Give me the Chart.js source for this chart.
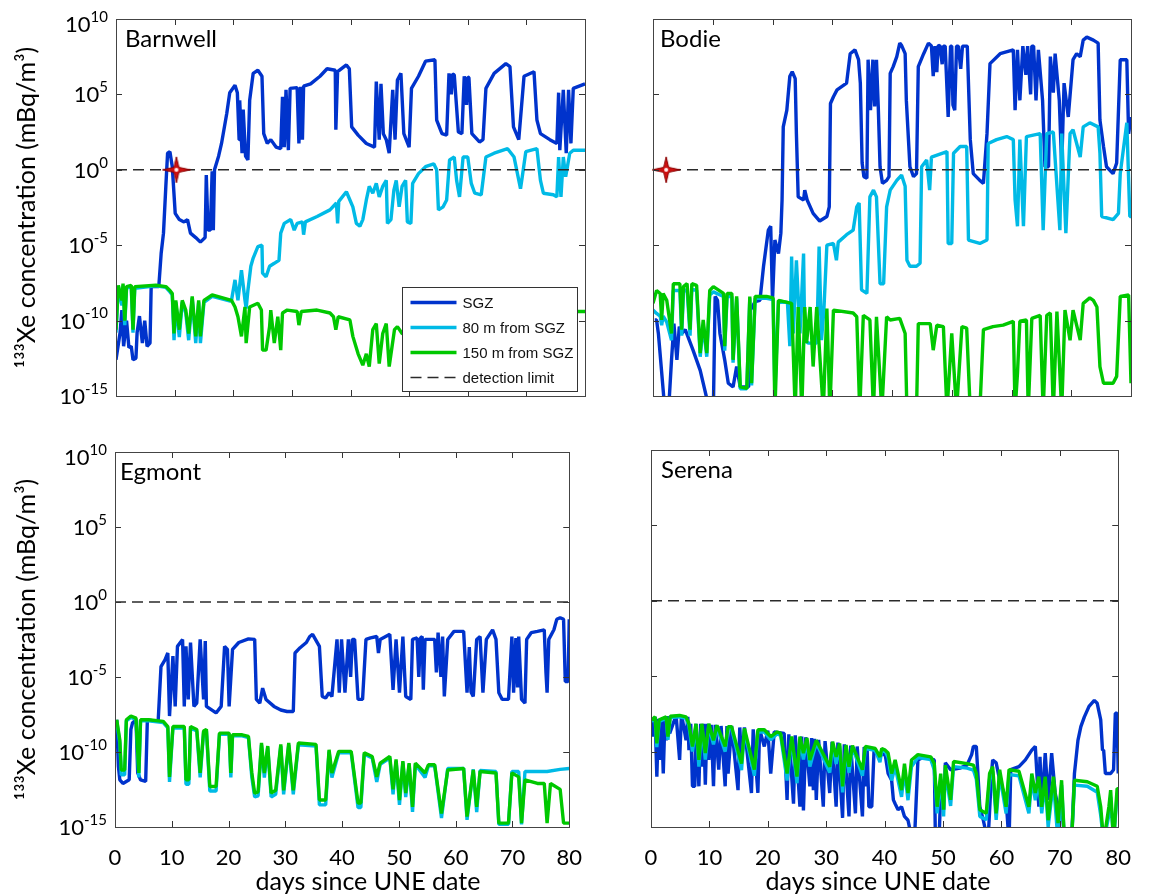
<!DOCTYPE html>
<html><head><meta charset="utf-8">
<script src="https://cdn.jsdelivr.net/npm/chart.js@4.4.1/dist/chart.umd.min.js"></script>
<style>
html,body{margin:0;padding:0;background:#fff}
body{width:1149px;height:896px;position:relative;overflow:hidden}
canvas{position:absolute}
</style></head>
<body>
<canvas id="c0" width="600" height="425" style="left:0;top:0"></canvas>
<canvas id="c1" width="549" height="425" style="left:600px;top:0"></canvas>
<canvas id="c2" width="600" height="471" style="left:0;top:425px"></canvas>
<canvas id="c3" width="549" height="471" style="left:600px;top:425px"></canvas>
<script>
// ---------------- data (day, concentration mBq/m3) ----------------
const SERIES_NAMES = ['SGZ', '80 m from SGZ', '150 m from SGZ'];
const DETECTION_LABEL = 'detection limit';
const DETECTION_LIMIT = 1;
const X_TICKS = [0,10,20,30,40,50,60,70,80];
const Y_TICKS = [1e-15,1e-10,1e-5,1,1e5,1e10];
const PANEL_NAMES = ['Barnwell','Bodie','Egmont','Serena'];
const X_TITLE = 'days since UNE date';
const Y_TITLE = '¹³³Xe concentration (mBq/m³)';
const STAR_BARNWELL = [[10.3,1]];
const STAR_BODIE = [[2.2,1]];

const barnwellSGZ = [[0,2.5e-13],[0.7,1.6e-11],[1.0,5e-10],[1.3,2e-12],[1.8,1e-10],[2.2,1.6e-12],[2.6,2e-12],[2.9,2.5e-13],[3.4,3.2e-13],[3.6,1.6e-11],[4.0,2e-10],[4.5,3.2e-12],[4.9,1e-10],[5.3,2e-12],[5.8,3.2e-12],[6.0,1.8e-8],[7.3,1.8e-8],[7.7,2.8e-6],[8.1,6.3e-5],[8.5,0.08],[8.8,12.6],[9.2,16],[9.6,1.6],[10.1,1.3e-3],[10.8,5e-4],[11.6,3.5e-4],[12.2,5e-4],[12.7,6.3e-5],[13.6,3.2e-5],[14.4,1.6e-5],[15.2,3.2e-5],[15.4,0.45],[15.7,1e-4],[16.1,1e-4],[16.4,0.8],[16.6,1e-4],[16.8,1],[17.5,8],[18.0,56],[18.9,5.6e3],[19.4,1.3e5],[20.3,4e5],[20.7,1.3e5],[21.0,100],[21.1,4e4],[21.5,12.6],[21.7,1e4],[22.1,8],[22.5,4.5],[22.8,4e4],[23.4,2.5e6],[24.2,4e6],[24.9,1.6e6],[25.2,250],[25.8,56],[26.4,100],[27.3,32],[28.1,25],[28.4,7e4],[28.7,32],[29.0,2e5],[29.4,20],[29.7,2.5e5],[30.9,2.8e5],[31.2,56],[31.5,3.2e5],[31.8,100],[32.0,3.5e5],[33.2,5e5],[34.8,1.6e6],[36.0,5e6],[37.4,4e6],[37.5,450],[37.8,3.2e6],[39.3,9e6],[39.8,5e6],[40.2,700],[41.3,200],[42.7,56],[44.1,32],[44.4,7e5],[44.9,100],[45.2,5e5],[45.6,250],[46.1,100],[46.6,12.6],[47.2,2e5],[47.6,100],[48.0,9e5],[48.6,2.5e6],[49.1,250],[50.0,32],[50.4,2.5e5],[51.6,1.6e6],[52.8,1.6e7],[54.4,2e7],[54.7,2e3],[55.6,250],[56.4,200],[56.8,2.5e6],[57.2,1e5],[57.4,2.2e6],[57.7,2e6],[58.4,320],[59.0,250],[59.4,1.6e6],[59.8,2e4],[60.0,1.4e6],[60.2,1.3e6],[60.7,250],[62.0,70],[62.6,100],[63.1,2.5e5],[64.5,2.5e6],[66.5,1.1e7],[67.2,7e6],[67.8,700],[68.7,100],[69.6,1.6e6],[71.3,3.2e6],[71.8,2e3],[72.4,250],[74.0,100],[75.2,56],[75.5,1.3e5],[75.7,20],[76.3,2e5],[76.8,12.6],[77.2,2e5],[77.6,56],[78.0,2.5e5],[80,5e5]];
const barnwell80 = [[0,1.6e-11],[0.4,1.8e-8],[1.0,1e-9],[1.2,2.2e-8],[1.5,5e-11],[1.8,1.4e-8],[2.6,1.8e-8],[2.9,1.6e-11],[3.2,1.4e-8],[6.8,2e-8],[8.5,1.6e-8],[9.2,8e-9],[9.6,5e-9],[9.9,5e-12],[10.2,1.6e-9],[10.8,8e-12],[11.3,1.6e-9],[11.9,3.2e-10],[12.4,5e-12],[13.0,3.2e-9],[13.6,3.2e-12],[14.1,1.6e-9],[14.4,3.2e-12],[15.0,1.6e-9],[16.4,4e-9],[19.5,2e-9],[19.7,2.2e-9],[20.3,5e-8],[20.8,2.2e-9],[21.4,2.2e-7],[22.0,2.2e-9],[22.2,6.3e-10],[22.5,1e-8],[23.0,4e-7],[23.4,1.4e-6],[24.2,8e-6],[24.9,1e-5],[25.0,1.4e-7],[25.6,8e-8],[26.2,4e-7],[27.0,6.3e-7],[27.8,1e-6],[28.1,6.3e-5],[28.7,2.8e-4],[29.8,5e-4],[30.4,1e-4],[30.9,2.8e-4],[31.8,3.5e-4],[32.0,5e-5],[32.3,3.5e-4],[34.3,8e-4],[36.5,2.2e-3],[37.6,6.3e-3],[37.8,2.8e-4],[38.0,8e-3],[39.3,0.035],[39.9,0.01],[40.4,3.5e-3],[41.0,2.8e-4],[41.6,1.8e-4],[42.1,5e-4],[42.7,0.01],[43.2,0.08],[43.8,0.028],[44.4,0.126],[44.9,0.016],[45.5,0.08],[46.1,0.2],[46.3,2.8e-4],[46.9,5e-4],[47.4,0.045],[47.8,0.2],[48.3,3.5e-3],[48.8,0.08],[49.4,0.2],[49.7,3.5e-4],[50.3,2.8e-4],[50.6,0.126],[51.6,0.56],[52.8,1.6],[54.2,2.5],[54.7,1],[55.0,2.2e-3],[55.8,3.5e-3],[56.4,0.01],[56.9,4.5],[57.7,7],[58.1,0.2],[58.6,0.016],[59.2,7],[60.0,7],[60.6,0.126],[61.2,0.028],[62.3,0.022],[63.1,7],[64.5,12.6],[66.8,25],[67.9,7],[69.0,0.056],[69.3,0.35],[69.9,16],[71.8,25],[72.4,0.2],[72.9,0.028],[74.6,0.022],[75.2,0.016],[75.5,7],[75.9,0.016],[76.3,7],[76.7,0.35],[77.4,12.6],[78.0,20],[80,20]];
const barnwell150 = [[0,2.5e-11],[0.4,2.2e-8],[1.0,2.2e-9],[1.2,2.8e-8],[1.5,1e-10],[1.8,1.8e-8],[2.6,2.2e-8],[2.9,2.5e-11],[3.2,1.8e-8],[6.8,2.2e-8],[8.5,1.8e-8],[9.2,1e-8],[9.6,6.3e-9],[9.9,1.4e-11],[10.2,2.2e-9],[10.8,2.5e-11],[11.3,2.2e-9],[11.9,5e-10],[12.4,1.4e-11],[13.0,4e-9],[13.6,9e-12],[14.1,2.2e-9],[14.4,9e-12],[15.0,2.2e-9],[16.4,5e-9],[19.7,2.2e-9],[20.3,8e-10],[20.8,1.8e-10],[21.4,9e-12],[22.0,8e-10],[22.2,3.2e-12],[22.8,8e-10],[24.2,1.4e-9],[24.8,5e-10],[25.0,1.1e-12],[25.6,1.1e-12],[26.2,4e-11],[26.4,5e-10],[27.0,3.2e-12],[27.6,1.8e-10],[28.1,1.1e-12],[28.4,3.2e-10],[29.2,5e-10],[30.9,4e-10],[31.2,5e-11],[31.6,4e-10],[34.3,5e-10],[36.5,3.2e-10],[37.1,1.8e-10],[37.5,2.5e-11],[37.9,1.8e-10],[39.9,1.1e-10],[40.4,9e-12],[41.3,6.3e-13],[42.1,1.1e-13],[42.7,6.3e-13],[43.2,9e-14],[43.8,2.5e-11],[44.4,6.3e-11],[44.9,1.4e-13],[45.5,1.4e-11],[46.1,6.3e-11],[46.6,9e-14],[47.5,2.5e-11],[48.0,4e-11],[48.8,1.4e-11],[55,1e-11],[65,1e-11],[78.7,4e-10],[80,4e-10]];

const bodieSGZ = [[0.3,1.1e-10],[0.6,1.1e-10],[0.9,1.4e-11],[2.0,1e-16],[2.6,1e-16],[3.1,2.5e-13],[3.5,6.3e-11],[4.0,2.5e-13],[4.4,4e-11],[4.8,1.4e-11],[5.4,2.5e-11],[6.7,1.1e-12],[7.9,5e-14],[9.5,1e-16],[10.1,1e-16],[10.4,4e-9],[10.8,2.2e-9],[11.2,1.4e-11],[12.0,2.5e-13],[12.6,7e-15],[13.4,4e-15],[14.0,9e-14],[14.6,4e-15],[16.0,4e-15],[16.3,5e-10],[17.1,1.8e-9],[17.9,2.2e-9],[18.5,4e-7],[19.3,1e-4],[19.7,1.8e-4],[20.0,2.2e-9],[20.4,2.2e-5],[21.0,2.8e-6],[21.4,6.3e-5],[21.6,0.01],[21.8,700],[22.4,9e3],[22.9,1.6e6],[23.3,3.2e6],[23.8,1.1e6],[24.0,250],[24.3,0.016],[25.2,0.01],[25.4,0.045],[25.8,0.01],[26.8,1.3e-3],[27.9,4e-4],[29.1,8e-4],[29.5,3.5e-3],[29.7,2.5e4],[30.2,7e4],[30.8,2e5],[32.4,5.6e5],[33.0,5e7],[33.8,9e7],[34.4,2e7],[34.7,5.6e5],[35.0,2.8],[35.3,0.35],[35.8,0.28],[36.0,2e7],[36.4,9e3],[36.8,2e7],[37.1,1.6e4],[37.4,2e7],[37.7,1.6e4],[38.0,1.6],[38.4,0.126],[39.1,0.2],[39.5,0.35],[39.7,2.5e6],[40.2,7e6],[40.8,3.2e7],[41.3,2.5e8],[41.6,1.8e8],[42.2,5e7],[42.4,4e4],[43.0,1.6],[43.6,0.35],[44.1,0.56],[44.4,7e6],[45.3,5e7],[46.1,2.5e8],[46.6,1.6e8],[46.9,1.6e6],[47.2,1.6e8],[47.5,3e6],[47.7,1.6e8],[48.0,1.8e8],[48.4,1e7],[48.6,1.6e8],[48.9,1.6e8],[49.4,3.2e3],[49.8,1.6e8],[50.0,1.6e8],[50.2,2e4],[50.5,9e3],[50.8,1.6e8],[51.1,1.6e8],[51.5,5e6],[51.8,1.6e8],[52.6,1.6e8],[53.1,100],[53.6,0.56],[54.7,0.2],[55.3,0.126],[55.9,250],[56.4,1.1e7],[58.1,5e7],[60.3,9e7],[60.6,9e3],[61.0,9e7],[61.4,4e4],[61.9,1.6e8],[62.4,2e6],[62.7,1.6e8],[63.2,1e5],[63.4,1.6e8],[63.7,1.6e8],[64.1,4e4],[64.5,9e7],[65.2,4e4],[65.6,1.6],[66.2,1.6],[66.5,3.2e7],[67.0,1.3e5],[67.3,5e7],[68.0,4e4],[68.4,1.6],[68.8,5.6e5],[69.5,3.2e3],[70.3,2e7],[70.9,5e7],[71.5,3.2e7],[72.0,4e8],[72.6,6.3e8],[73.7,4e8],[74.5,2.5e8],[74.8,2e3],[75.4,35],[75.9,1.6],[77.0,0.56],[77.6,2.8],[78.2,2e7],[79.3,2e7],[79.6,250],[80,3.2e3]];
const bodie80 = [[0,5e-10],[0.6,3e-10],[1.2,2e-10],[1.45,5e-11],[1.7,2e-10],[2.3,8e-11],[3.1,5e-12],[3.4,1e-8],[4.5,1e-8],[4.8,1e-11],[5.1,8e-9],[5.7,1.2e-8],[6.2,1e-11],[6.5,1.2e-8],[7.3,1e-8],[7.9,4e-13],[8.4,5e-11],[9.0,4e-13],[9.5,5e-9],[10.1,8e-9],[11.8,4e-9],[12.0,1e-12],[12.4,4e-9],[13.2,4e-9],[13.4,1.6e-13],[14.0,3e-9],[14.6,3e-15],[15.7,3e-15],[16.2,3e-9],[16.5,5e-15],[17.1,3e-9],[19.0,3e-9],[20.1,2.5e-9],[20.4,2e-15],[21.0,2e-9],[22.5,1.6e-9],[22.9,2e-12],[23.2,1.8e-6],[23.5,1.4e-11],[24.0,1e-6],[24.6,1.4e-11],[25.2,2.8e-6],[25.4,5e-12],[26.0,3.2e-12],[27.4,3.2e-12],[27.8,8e-6],[28.2,5e-12],[28.6,5e-10],[29.1,1e-5],[30.2,1.3e-5],[30.7,1e-6],[31.0,1.6e-5],[32.4,5e-5],[33.5,1e-4],[34.1,3.5e-3],[34.5,6.3e-3],[34.9,1.1e-8],[35.8,6.3e-9],[36.3,0.016],[36.9,0.045],[37.4,0.016],[38.0,2.8e-8],[38.6,2.8e-8],[39.1,3.5e-3],[39.7,0.045],[40.8,0.2],[41.6,0.45],[42.2,0.08],[42.5,1e-6],[43.0,4e-7],[44.1,4e-7],[44.7,6.3e-7],[44.96,1.6],[45.8,4.5],[46.3,0.045],[46.6,7],[49.2,16],[49.4,1.3e-5],[50.0,1.3e-5],[50.3,12.6],[51.4,35],[52.5,35],[52.8,2.2e-5],[54.7,1.3e-5],[55.9,2.2e-5],[56.1,56],[57.5,100],[59.2,160],[60.3,100],[60.6,0.01],[61.0,1.8e-4],[61.4,100],[62.0,1.8e-4],[62.5,160],[64.8,250],[65.3,1e-4],[65.9,250],[67.0,320],[68.1,1e-4],[68.4,250],[69.1,6.3e-5],[69.8,250],[70.3,450],[71.5,7],[72.0,700],[73.1,1.3e3],[74.5,700],[74.8,12.6],[75.1,8e-4],[77.0,5e-4],[77.9,1.3e-3],[78.2,0.56],[79.3,1.3e3],[79.8,8e-4],[80,8e-4]];
const bodie150 = [[0,1.4e-9],[0.6,1e-8],[1.2,6.3e-9],[1.45,1.1e-10],[1.7,6.3e-9],[2.3,2.2e-9],[3.1,1.4e-11],[3.4,2.8e-8],[4.5,2.8e-8],[4.8,2.5e-11],[5.1,1.8e-8],[5.7,2.8e-8],[6.2,2.5e-11],[6.5,2.8e-8],[7.3,2.2e-8],[7.9,7e-13],[8.4,1.1e-10],[9.0,7e-13],[9.5,1e-8],[10.1,1.8e-8],[11.8,6.3e-9],[12.0,2e-12],[12.4,6.3e-9],[13.2,6.3e-9],[13.4,2.5e-13],[14.0,4e-9],[14.6,4e-15],[15.7,3.2e-15],[16.2,4e-9],[16.5,7e-15],[17.1,4e-9],[19.0,4e-9],[20.1,3.2e-9],[20.4,1e-16],[21.0,2.2e-9],[23.2,1.4e-9],[23.8,1e-16],[24.3,8e-10],[24.9,1e-16],[25.4,8e-10],[25.7,3.2e-12],[26.3,8e-10],[26.8,9e-14],[27.4,8e-10],[28.5,1e-16],[29.1,6.3e-10],[29.6,1e-16],[30.2,5e-10],[33.5,3.2e-10],[34.1,1.8e-10],[34.6,1e-16],[35.2,2.2e-10],[36.3,1.1e-10],[36.9,1e-16],[37.4,1.8e-10],[38.3,1e-16],[39.1,1.8e-10],[39.7,1.1e-10],[41.3,1.4e-10],[42.2,1.4e-11],[42.5,1e-16],[44.1,1e-16],[44.4,6.3e-11],[46.4,6.3e-11],[46.9,1.1e-12],[47.5,5e-11],[48.6,4e-11],[49.2,1e-16],[50.0,1.4e-11],[50.8,1e-16],[51.7,4e-11],[52.5,3.2e-11],[53.1,1e-16],[54.7,1e-16],[55.3,2.5e-11],[56.9,4e-11],[58.6,5e-11],[60.3,9e-11],[60.6,1e-16],[61.0,3.2e-14],[61.4,9e-11],[62.5,1.1e-10],[62.8,1e-16],[63.4,1.4e-10],[64.8,2.2e-10],[65.3,1e-16],[65.9,2.2e-10],[66.5,3.2e-10],[67.0,1e-16],[67.6,4e-10],[68.4,1e-16],[68.95,5e-10],[69.8,5e-12],[70.3,5e-10],[71.5,5e-12],[72.0,1.4e-9],[73.1,3.2e-9],[73.7,2.2e-9],[74.3,8e-10],[74.8,9e-14],[75.4,7e-15],[77.0,7e-15],[77.6,2e-14],[78.2,4e-9],[79.6,5e-9],[80,7e-15]];

const egmontSGZ = [[0.3,1.4e-8],[0.6,1.1e-11],[0.85,1.4e-12],[1.4,8e-13],[2.5,1.4e-12],[2.8,3.2e-9],[3.1,9e-9],[3.7,1.4e-8],[4.0,4e-12],[4.5,1.4e-12],[5.4,1.1e-12],[5.7,1.4e-8],[7.6,1.1e-8],[8.1,5e-5],[8.8,1.4e-4],[9.3,4e-4],[9.6,2.5e-8],[10.2,2.5e-4],[10.6,1.1e-7],[11.0,1.1e-3],[11.9,3.2e-3],[12.2,1.1e-7],[12.5,1.1e-3],[12.9,3.2e-7],[13.3,2e-3],[13.9,1.1e-7],[14.4,1.8e-7],[15.0,3.2e-3],[15.6,3.2e-7],[15.9,2.5e-3],[16.1,1.1e-7],[17.8,4e-8],[18.7,1.1e-7],[19.3,1.1e-3],[19.8,7e-4],[20.1,1.1e-7],[20.7,7e-4],[21.8,2e-3],[23.5,3.5e-3],[24.6,3.2e-3],[24.9,3.2e-7],[25.5,1.8e-7],[26.0,1.8e-6],[26.6,3.2e-7],[28.0,1.1e-7],[29.2,6.3e-8],[30.3,5e-8],[31.4,5e-8],[31.7,4e-4],[32.6,9e-4],[33.7,2e-3],[34.3,5e-3],[34.8,7e-3],[36.0,1.1e-3],[36.5,5e-7],[37.1,4e-7],[37.7,9e-7],[38.2,5e-7],[39.1,3.2e-3],[39.5,9e-7],[39.9,3.2e-3],[40.5,9e-7],[41.1,3.2e-3],[41.5,1e-5],[41.8,3.2e-3],[42.2,3.2e-3],[42.8,3.2e-7],[43.6,3.2e-7],[44.2,3.2e-3],[45.0,4e-3],[46.1,5e-3],[46.4,4e-4],[46.7,3.2e-3],[48.4,7e-3],[48.97,1.4e-6],[49.5,3.2e-3],[50.1,9e-7],[50.7,5e-3],[51.2,5e-7],[52.1,3.2e-7],[52.4,3.2e-3],[53.2,4e-3],[53.5,1e-5],[53.8,4e-3],[54.1,5e-3],[54.3,1.4e-6],[54.6,3.2e-3],[56.3,3.2e-3],[56.6,2e-5],[56.9,9e-3],[57.4,1e-5],[57.7,5e-3],[58.0,5e-7],[58.6,3.2e-3],[59.7,0.011],[61.4,0.011],[62.0,9e-7],[62.4,1e-3],[62.7,1e-6],[63.1,5e-7],[63.7,3.2e-3],[64.3,5e-3],[64.8,9e-7],[65.4,3.2e-3],[66.5,0.014],[67.1,3.2e-3],[67.6,9e-7],[68.2,3.2e-7],[69.3,3.2e-7],[69.9,5e-3],[70.2,9e-7],[70.6,4e-3],[70.9,2e-6],[71.1,5e-3],[71.6,3.2e-7],[72.2,1.8e-7],[72.5,3.2e-3],[73.3,9e-3],[74.4,0.011],[75.6,0.014],[75.9,2e-5],[76.1,9e-7],[76.4,3.2e-3],[77.3,0.014],[77.8,0.07],[78.4,0.09],[79.0,0.07],[79.3,5e-6],[79.8,5e-6],[80,0.07]];
const egmont80 = [[0.3,1.2e-8],[0.85,4e-10],[1.1,3e-12],[1.7,3e-12],[2.0,1.2e-8],[2.8,2e-8],[3.7,1.5e-8],[4.2,2e-12],[4.5,1.2e-8],[5.9,1.2e-8],[8.5,9e-9],[9.3,4e-9],[9.6,1e-12],[10.2,4e-9],[12.2,4e-9],[12.5,7e-13],[13.0,7e-13],[13.3,4e-9],[14.4,2.5e-9],[15.0,2e-12],[15.6,2e-9],[16.1,2.5e-9],[16.7,2.5e-13],[17.8,2.5e-13],[18.4,1.5e-9],[20.1,1.5e-9],[20.4,2e-12],[20.7,1.2e-9],[22.4,1.2e-9],[23.5,9e-10],[24.1,2e-12],[24.6,1e-13],[25.2,1.2e-13],[25.8,3e-10],[26.3,2e-12],[26.9,2e-10],[27.5,1e-13],[28.3,1.5e-13],[29.2,2.5e-10],[29.7,1.5e-13],[30.6,3e-10],[31.4,1.5e-13],[32.3,3e-10],[35.4,2.5e-10],[36.0,3e-14],[37.1,3e-14],[37.7,1.1e-10],[38.2,2e-12],[39.4,9e-11],[41.6,9e-11],[42.8,2e-14],[43.3,2e-14],[43.9,7e-11],[45.3,4e-11],[46.1,1e-12],[46.7,1.5e-11],[48.4,4e-11],[48.97,1.5e-13],[49.5,2.5e-11],[50.1,3e-14],[50.7,2e-11],[51.2,1e-13],[51.8,1.5e-11],[52.4,1e-14],[52.9,1.5e-11],[54.6,2e-12],[55.2,1.2e-11],[56.3,1.2e-11],[57.5,4e-15],[58.6,8e-12],[61.4,8e-12],[62.0,3e-15],[63.1,7e-12],[63.7,1e-14],[64.3,6e-12],[67.1,5e-12],[67.6,1.5e-15],[69.3,1.5e-15],[69.9,5e-12],[71.1,5e-12],[71.6,1.5e-15],[72.2,5e-12],[74.4,5e-12],[76.1,5e-12],[78.4,7e-12],[80,8e-12]];
const egmont150 = [[0.3,1.4e-8],[0.85,6.3e-10],[1.1,6.3e-12],[1.7,6.3e-12],[2.0,1.4e-8],[2.8,2.5e-8],[3.7,1.8e-8],[4.2,4e-12],[4.5,1.4e-8],[5.9,1.4e-8],[8.5,1.1e-8],[9.3,5e-9],[9.6,2.2e-12],[10.2,5e-9],[12.2,5e-9],[12.5,1.4e-12],[13.0,1.4e-12],[13.3,5e-9],[14.4,3.2e-9],[15.0,4e-12],[15.6,2.5e-9],[16.1,3.2e-9],[16.7,5e-13],[17.8,5e-13],[18.4,1.8e-9],[20.1,1.8e-9],[20.4,4e-12],[20.7,1.4e-9],[22.4,1.4e-9],[23.5,1.1e-9],[24.1,4e-12],[24.6,1.8e-13],[25.2,2.2e-13],[25.8,4e-10],[26.3,4e-12],[26.9,2.5e-10],[27.5,1.8e-13],[28.3,2.8e-13],[29.2,3.2e-10],[29.7,2.8e-13],[30.6,4e-10],[31.4,2.8e-13],[32.3,4e-10],[35.4,3.2e-10],[36.0,6.3e-14],[37.1,6.3e-14],[37.7,1.4e-10],[38.2,4e-12],[39.4,1.1e-10],[41.6,1.1e-10],[42.8,4e-14],[43.3,4e-14],[43.9,9e-11],[45.3,5e-11],[46.1,2.2e-12],[46.7,1.8e-11],[48.4,5e-11],[48.97,3.2e-13],[49.5,3.2e-11],[50.1,6.3e-14],[50.7,2.5e-11],[51.2,1.8e-13],[51.8,1.8e-11],[52.4,2.2e-14],[52.9,1.8e-11],[54.6,4e-12],[55.2,1.4e-11],[56.3,1.4e-11],[57.5,8e-15],[58.6,6.3e-12],[61.4,8e-12],[62.0,5e-15],[63.1,6.3e-12],[63.7,2.2e-14],[64.3,5e-12],[67.1,4e-12],[67.6,1.8e-15],[69.3,1.8e-15],[69.9,4e-12],[71.1,2.2e-12],[71.6,1.8e-15],[72.2,1.4e-12],[74.4,8e-13],[75.6,8e-13],[76.1,1.8e-15],[76.7,8e-13],[78.4,3.2e-13],[79.0,1.8e-15],[80,1.8e-15]];

const serenaSGZ = [[0.1,1.26e-8],[0.4,1e-9],[0.7,2e-8],[1.0,2.2e-12],[1.3,1.5e-8],[1.5,2.8e-11],[1.8,1.5e-8],[2.1,3.5e-12],[2.4,2e-8],[2.6,5.6e-10],[3.0,2.2e-8],[3.2,1.6e-9],[4.3,2.5e-8],[4.9,2.8e-11],[5.2,2.2e-8],[5.4,1.26e-8],[6.0,5.6e-10],[6.3,2e-8],[6.5,1.26e-10],[6.8,7e-9],[7.1,5e-13],[7.5,5e-13],[7.7,7e-9],[8.2,5e-13],[8.5,7e-9],[8.8,1e-11],[9.0,7e-9],[9.3,6.3e-13],[9.6,7e-9],[9.9,2.8e-11],[10.3,6e-9],[10.7,5e-13],[11.0,6e-9],[11.6,6.3e-12],[12.0,5e-9],[12.7,5e-13],[13.0,5e-9],[13.2,3.5e-12],[13.8,5e-9],[14.9,2.8e-13],[15.2,4e-9],[15.5,2.8e-11],[16.0,4e-9],[17.2,1.8e-13],[17.5,3e-9],[18.3,1.8e-13],[18.6,3e-9],[19.4,2.2e-10],[20.0,2.5e-9],[20.5,3.5e-12],[21.1,2e-9],[22.8,1.6e-9],[23.3,6.3e-14],[23.6,1.4e-9],[24.4,3.5e-14],[24.7,1.2e-9],[25.5,2.2e-14],[25.8,1e-9],[26.1,1.26e-14],[26.5,9e-10],[27.2,5e-13],[27.5,8e-10],[27.8,2.8e-13],[28.0,7e-10],[28.3,6.3e-14],[28.7,6e-10],[29.5,2.2e-14],[29.8,5e-10],[30.6,1.8e-13],[31.0,4.5e-10],[31.7,2.2e-14],[32.0,4e-10],[32.8,4e-15],[33.1,3e-10],[33.9,5e-15],[34.2,2.5e-10],[35.0,8e-15],[35.3,2.2e-10],[36.2,5e-15],[36.5,2e-10],[36.7,5e-13],[37.0,1.8e-10],[37.3,2.2e-14],[37.8,2.2e-14],[38.2,1.6e-10],[39.0,4.5e-11],[39.5,6.3e-11],[40.1,6.3e-11],[40.6,3.5e-12],[41.2,1.26e-12],[41.5,6.3e-14],[41.8,3.5e-14],[42.3,1.4e-14],[42.9,2.2e-14],[43.4,5e-15],[44.0,2.8e-15],[44.8,1e-16],[45.1,1e-16],[45.7,2.8e-11],[46.8,4.5e-11],[48.5,2.8e-11],[48.7,1e-16],[49.3,1e-16],[49.6,1.8e-13],[50.1,1.4e-14],[50.4,1.8e-11],[51.3,6.3e-12],[52.9,8e-12],[54.1,1.26e-11],[54.9,6.3e-11],[55.2,2.2e-10],[55.7,2.2e-10],[56.3,2.2e-14],[56.9,2.8e-15],[57.7,1e-16],[58.3,3.5e-12],[58.5,2.8e-11],[59.1,1.8e-11],[59.7,1.26e-12],[60.8,6.3e-14],[61.3,1e-16],[61.6,6.3e-12],[63.0,1e-11],[64.1,2.8e-11],[65.2,1.26e-10],[65.8,2.2e-10],[66.4,2.2e-14],[66.6,4.5e-11],[66.9,2.2e-14],[67.5,8e-11],[68.0,6.3e-14],[68.6,8e-11],[69.2,1.8e-13],[69.7,2.2e-14],[70.3,6.3e-14],[70.8,1e-16],[72.0,1e-16],[72.5,3.5e-12],[73.1,5.6e-10],[73.6,4.5e-9],[74.2,2e-8],[75.0,1e-7],[75.9,2.5e-7],[76.4,1.6e-7],[77.0,1.26e-8],[77.3,1.26e-10],[77.5,1.26e-10],[77.8,3.5e-12],[78.7,3.5e-12],[79.2,6.3e-12],[79.5,3.5e-8],[79.8,3.5e-8],[80,3.5e-12]];
const serena80 = [[0.1,1e-8],[0.7,1.6e-8],[1.0,2e-10],[1.4,1e-8],[2.6,1.6e-8],[2.9,6e-10],[3.3,1.8e-8],[4.9,2e-8],[6.0,1.6e-8],[6.5,5e-9],[7.1,1e-10],[7.7,5e-9],[8.2,1e-11],[8.7,5e-9],[9.3,3e-11],[9.9,5e-9],[10.7,3e-10],[11.3,4e-9],[12.7,1e-10],[13.2,3.5e-9],[13.8,3.5e-9],[15.5,6e-12],[16.0,2.5e-9],[17.7,2.5e-12],[18.3,2e-9],[19.4,2e-9],[20.5,6e-10],[21.6,1.5e-9],[22.2,1.2e-9],[23.3,1.2e-12],[24.1,7e-10],[25.0,8e-13],[25.5,7e-10],[26.1,3e-11],[26.7,6e-10],[27.2,1e-11],[28.3,4e-10],[30.6,4e-12],[31.1,3.5e-10],[31.7,1.5e-11],[32.3,2.5e-10],[32.8,2e-13],[33.4,2e-10],[33.9,4e-12],[34.5,2e-10],[36.2,2.5e-12],[36.7,1.6e-10],[38.4,1.2e-10],[39.2,2e-11],[39.5,1.2e-10],[40.1,1e-10],[40.6,4e-11],[41.2,1.2e-12],[41.8,1e-11],[42.9,1e-13],[43.4,6e-12],[44.0,6e-14],[44.6,1e-11],[45.7,4e-11],[47.9,3e-11],[48.5,6e-12],[49.0,8e-15],[49.6,1.5e-12],[50.1,5e-15],[50.4,5e-12],[51.3,2.5e-14],[51.8,1e-11],[54.1,8e-12],[55.2,6e-12],[55.7,1.5e-12],[56.3,5e-15],[57.4,3e-15],[57.97,1.5e-12],[58.5,5e-12],[59.1,3e-15],[59.7,3e-12],[60.8,8e-15],[61.3,3e-12],[63.0,2.5e-12],[64.7,8e-15],[65.2,1.5e-12],[65.8,6e-14],[66.4,1e-12],[66.9,8e-15],[67.5,1e-12],[68.0,1e-15],[68.9,1e-12],[69.7,1e-16],[70.3,6e-13],[70.8,1e-16],[72.0,1e-16],[72.5,6e-13],[74.7,5e-13],[76.4,2e-13],[77.0,6e-15],[77.5,1e-16],[78.4,6e-15],[78.7,1e-13],[79.2,1e-16],[79.8,1.5e-13],[80,1.5e-13]];
const serena150 = [[0.1,1.26e-8],[0.7,2e-8],[1.0,3.5e-10],[1.4,1.26e-8],[2.6,2e-8],[2.9,1e-9],[3.3,2.2e-8],[4.9,2.5e-8],[6.0,2e-8],[6.5,7e-9],[7.1,2.2e-10],[7.7,7e-9],[8.2,2.8e-11],[8.7,7e-9],[9.3,8e-11],[9.9,7e-9],[10.7,5.6e-10],[11.3,5.6e-9],[12.7,2.2e-10],[13.2,4.5e-9],[13.8,4.5e-9],[15.5,1.6e-11],[16.0,3.5e-9],[17.7,6.3e-12],[18.3,2.8e-9],[19.4,2.8e-9],[20.5,1e-9],[21.6,2e-9],[22.2,1.6e-9],[23.3,3.5e-12],[24.1,1e-9],[25.0,2.2e-12],[25.5,1e-9],[26.1,8e-11],[26.7,8e-10],[27.2,2.8e-11],[28.3,5.6e-10],[30.6,1e-11],[31.1,4.5e-10],[31.7,4.5e-11],[32.3,3.5e-10],[32.8,5e-13],[33.4,2.8e-10],[33.9,1e-11],[34.5,2.5e-10],[36.2,6.3e-12],[36.7,2.2e-10],[38.4,1.6e-10],[39.2,4.5e-11],[39.5,1.6e-10],[40.1,1.26e-10],[40.6,8e-11],[41.2,3.5e-12],[41.8,2.8e-11],[42.9,2.8e-13],[43.4,1.6e-11],[44.0,1.8e-13],[44.6,2.8e-11],[45.7,6.3e-11],[47.9,4.5e-11],[48.5,1.6e-11],[49.0,2.2e-14],[49.6,3.5e-12],[50.1,1.4e-14],[50.4,1.26e-11],[51.3,6.3e-14],[51.8,2.2e-11],[54.1,1.6e-11],[55.2,1.26e-11],[55.7,3.5e-12],[56.3,1.4e-14],[57.4,8e-15],[57.97,3.5e-12],[58.5,1e-11],[59.1,8e-15],[59.7,6.3e-12],[60.8,2.2e-14],[61.3,6.3e-12],[63.0,5e-12],[64.7,2.2e-14],[65.2,3.5e-12],[65.8,1.8e-13],[66.4,2.2e-12],[66.9,2.2e-14],[67.5,2.2e-12],[68.0,2.8e-15],[68.9,2.2e-12],[69.7,1.8e-15],[70.3,1.26e-12],[70.8,1e-16],[72.0,1e-16],[72.5,1.26e-12],[74.7,1e-12],[76.4,5e-13],[77.0,2.2e-14],[77.5,1e-16],[78.4,2.2e-14],[78.7,2.8e-13],[79.2,1e-16],[79.8,3.5e-13],[80,3.5e-13]];

// ---------------- styling ----------------
const COLORS = ['#0033cc', '#00bae6', '#00c800'];
const FONT = 'Lato, "Open Sans", sans-serif';

function makeStar() {
  const c = document.createElement('canvas');
  c.width = 30; c.height = 28;
  const g = c.getContext('2d');
  const cx = 15, cy = 14;
  g.beginPath();
  g.moveTo(cx, 1); g.lineTo(cx + 2.5, cy - 2.5); g.lineTo(29, cy); g.lineTo(cx + 2.5, cy + 2.5);
  g.lineTo(cx, 27); g.lineTo(cx - 2.5, cy + 2.5); g.lineTo(1, cy); g.lineTo(cx - 2.5, cy - 2.5); g.closePath();
  g.fillStyle = '#d01010'; g.fill();
  g.strokeStyle = '#8a0000'; g.lineWidth = 1; g.stroke();
  g.beginPath(); g.arc(cx, cy, 2, 0, Math.PI * 2); g.fillStyle = '#fff0f0'; g.fill();
  return c;
}
const STAR_IMG = makeStar();

const toXY = arr => arr.map(p => ({x: p[0], y: p[1]}));

const decoPlugin = {
  id: 'deco',
  afterDraw(chart) {
    const o = chart.options.plugins.deco;
    const {ctx, chartArea: a, scales: {x, y}} = chart;
    ctx.save();
    // inner ticks
    ctx.strokeStyle = '#333'; ctx.lineWidth = 1;
    ctx.beginPath();
    const tl = 6;
    x.ticks.forEach(t => {
      const px = Math.round(x.getPixelForValue(t.value)) + 0.5;
      ctx.moveTo(px, a.bottom); ctx.lineTo(px, a.bottom - tl);
      ctx.moveTo(px, a.top); ctx.lineTo(px, a.top + tl);
    });
    y.ticks.forEach(t => {
      const py = Math.round(y.getPixelForValue(t.value)) + 0.5;
      ctx.moveTo(a.left, py); ctx.lineTo(a.left + tl, py);
      ctx.moveTo(a.right, py); ctx.lineTo(a.right - tl, py);
    });
    ctx.stroke();
    // frame
    ctx.strokeStyle = '#444';
    ctx.strokeRect(Math.round(a.left) + 0.5, Math.round(a.top) + 0.5, Math.round(a.right - a.left), Math.round(a.bottom - a.top));
    // y tick labels with superscript exponents
    if (o.yLabels) {
      ctx.fillStyle = '#000';
      ctx.textBaseline = 'middle';
      y.ticks.forEach(t => {
        const py = y.getPixelForValue(t.value) + (t.value === y.max ? 6 : 1);
        const ex = String(Math.round(Math.log10(t.value)));
        ctx.font = '22px ' + FONT;
        const wb = ctx.measureText('10').width;
        ctx.font = '15px ' + FONT;
        const we = ctx.measureText(ex).width;
        const xr = a.left - 8;
        ctx.font = '22px ' + FONT;
        ctx.textAlign = 'left';
        ctx.fillText('10', xr - we - wb, py);
        ctx.font = '15px ' + FONT;
        ctx.fillText(ex, xr - we, py - 8);
      });
    }
    // x axis title
    if (o.xTitle) {
      ctx.fillStyle = '#000';
      ctx.font = '25px ' + FONT;
      ctx.textAlign = 'center'; ctx.textBaseline = 'middle';
      ctx.fillText(X_TITLE, o.xTitleX, chart.height - 14);
    }
    // panel name
    ctx.fillStyle = '#000';
    ctx.textAlign = 'left'; ctx.textBaseline = 'alphabetic';
    ctx.font = '24px ' + FONT;
    ctx.fillText(o.name, a.left + o.nameDx, a.top + 28);
    // legend
    if (o.legend) {
      const bw = 175, bh = 104;
      const bx = Math.round(a.right - 8 - bw) + 0.5, by = Math.round(a.bottom - 5 - bh) + 0.5;
      ctx.fillStyle = '#fff';
      ctx.fillRect(bx, by, bw, bh);
      ctx.strokeStyle = '#333'; ctx.lineWidth = 1;
      ctx.strokeRect(bx, by, bw, bh);
      const ds = chart.data.datasets.filter(d => d.inLegend);
      ds.forEach((d, i) => {
        const ry = by + 15 + i * 25;
        ctx.save();
        ctx.strokeStyle = d.borderColor;
        ctx.lineWidth = d.borderWidth;
        ctx.setLineDash(d.borderDash || []);
        ctx.beginPath(); ctx.moveTo(bx + 8, ry); ctx.lineTo(bx + 54, ry); ctx.stroke();
        ctx.restore();
        ctx.fillStyle = '#111';
        ctx.font = '15px "Liberation Sans", Arial, sans-serif';
        ctx.textBaseline = 'middle';
        ctx.fillText(d.label, bx + 60, ry + 1);
      });
    }
    ctx.restore();
  }
};

function makePanel(id, cfg) {
  const canvas = document.getElementById(id);
  const W = canvas.width, H = canvas.height;
  const datasets = [];
  cfg.series.forEach((s, i) => {
    datasets.push({
      label: SERIES_NAMES[i], data: toXY(s), borderColor: COLORS[i], backgroundColor: COLORS[i],
      borderWidth: 3.4, pointRadius: 0, tension: 0, borderJoinStyle: 'bevel', order: 4 - i, inLegend: true
    });
  });
  datasets.push({
    label: DETECTION_LABEL, data: [{x: 0, y: DETECTION_LIMIT}, {x: 80, y: DETECTION_LIMIT}],
    borderColor: '#2a2a2a', borderWidth: 1.5, borderDash: [11, 6], pointRadius: 0, order: 1, inLegend: true
  });
  if (cfg.star) {
    datasets.push({
      label: 'UNE', data: toXY(cfg.star), showLine: false, pointStyle: STAR_IMG, pointRadius: 14,
      order: 0, clip: false, inLegend: false
    });
  }
  return new Chart(canvas, {
    type: 'line',
    data: {datasets},
    options: {
      responsive: false, animation: false, events: [],
      layout: {padding: {left: 0, top: cfg.area.top, right: W - cfg.area.right, bottom: 0}},
      plugins: {
        legend: {display: false}, tooltip: {enabled: false},
        deco: {name: cfg.name, nameDx: cfg.nameDx, legend: cfg.legend, yLabels: cfg.yLabels, xTitle: cfg.xLabels, xTitleX: cfg.xTitleX}
      },
      scales: {
        x: {
          type: 'linear', min: 0, max: 80,
          afterBuildTicks: s => { s.ticks = X_TICKS.map(v => ({value: v})); },
          ticks: {display: cfg.xLabels, color: '#000', font: {family: FONT, size: 22}, padding: 18, maxRotation: 0, autoSkip: false},
          grid: {display: false, drawTicks: false}, border: {display: false},
          title: {display: false},
          afterFit: s => { s.height = H - cfg.area.bottom; }
        },
        y: {
          type: 'logarithmic', min: Y_TICKS[0], max: Y_TICKS[Y_TICKS.length - 1],
          afterBuildTicks: s => { s.ticks = Y_TICKS.map(v => ({value: v})); },
          ticks: {display: false},
          grid: {display: false, drawTicks: false}, border: {display: false},
          title: {display: cfg.yLabels, text: Y_TITLE, color: '#000', font: {family: FONT, size: 25}, padding: {top: 12, bottom: 0}},
          afterFit: s => { s.width = cfg.area.left; }
        }
      }
    },
    plugins: [decoPlugin]
  });
}

makePanel('c0', {name: PANEL_NAMES[0], nameDx: 9, series: [barnwellSGZ, barnwell80, barnwell150], star: STAR_BARNWELL,
  legend: true, yLabels: true, xLabels: false, area: {left: 116, top: 19, right: 592, bottom: 396}});
makePanel('c1', {name: PANEL_NAMES[1], nameDx: 7, series: [bodieSGZ, bodie80, bodie150], star: STAR_BODIE,
  legend: false, yLabels: false, xLabels: false, area: {left: 53, top: 19, right: 531, bottom: 396}});
makePanel('c2', {name: PANEL_NAMES[2], nameDx: 5, series: [egmontSGZ, egmont80, egmont150], xTitleX: 368,
  legend: false, yLabels: true, xLabels: true, area: {left: 115, top: 27, right: 587, bottom: 402}});
makePanel('c3', {name: PANEL_NAMES[3], nameDx: 10, series: [serenaSGZ, serena80, serena150], xTitleX: 278,
  legend: false, yLabels: false, xLabels: true, area: {left: 51, top: 25, right: 529, bottom: 402}});
</script>
</body></html>
